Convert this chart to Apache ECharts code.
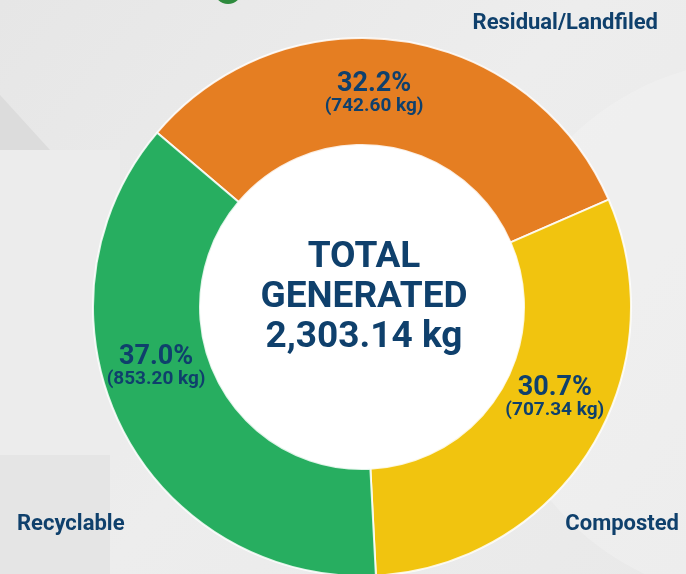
<!DOCTYPE html>
<html>
<head>
<meta charset="utf-8">
<script src="https://cdn.jsdelivr.net/npm/echarts@6/dist/echarts.min.js"></script>
<style>
html,body{margin:0;padding:0;background:#e9e9e9;}
#c{width:686px;height:574px;}
</style>
</head>
<body>
<div id="c"></div>
<script>
// Data
var categories = ['Residual/Landfiled', 'Composted', 'Recyclable'];
var valuesKg = [742.60, 707.34, 853.20];
var sliceColors = ['#E57E22', '#F1C40F', '#27AE60'];

var total = valuesKg.reduce(function (a, b) { return a + b; }, 0);
function fmtNum(v) {
  var s = v.toFixed(2).split('.');
  return s[0].replace(/\B(?=(\d{3})+(?!\d))/g, ',') + '.' + s[1];
}

var textColor = '#0F406C';
var chart = echarts.init(document.getElementById('c'));

var offsets = [[-20, 3], [7, -24], [-10, -36]];

chart.setOption({
  backgroundColor: '#e9e9e9',
  animation: false,
  graphic: [
    { type: 'rect', z: 0, shape: { x: 0, y: 0, width: 686, height: 574 },
      style: { fill: new echarts.graphic.LinearGradient(0, 0, 1, 1, [
        { offset: 0, color: '#e6e6e6' }, { offset: 0.5, color: '#ededed' }, { offset: 1, color: '#e9e9e9' }]) } },
    { type: 'polygon', z: 0, shape: { points: [[0, 95], [0, 150], [50, 150]] }, style: { fill: '#dcdcdc' } },
    { type: 'rect', z: 0, shape: { x: 0, y: 150, width: 120, height: 305 }, style: { fill: '#ececec' } },
    { type: 'rect', z: 0, shape: { x: 0, y: 455, width: 110, height: 119 }, style: { fill: '#e5e5e5' } },
    { type: 'circle', z: 0, shape: { cx: 760, cy: 330, r: 270 }, style: { fill: 'rgba(255,255,255,0.2)' } },
    { type: 'circle', z: 0, shape: { cx: 228, cy: -10, r: 14 }, style: { fill: '#2E8B3E' } },
    { type: 'circle', z: 1, shape: { cx: 362, cy: 307, r: 163 }, style: { fill: '#ffffff' } },
    { type: 'text', z: 10, style: {
        text: 'TOTAL\nGENERATED\n' + fmtNum(total) + ' kg',
        x: 364, y: 298, textAlign: 'center', textVerticalAlign: 'middle',
        font: 'bold 37px Roboto', lineHeight: 40, fill: textColor } },
    { type: 'text', z: 10, style: { text: categories[0], x: 658, y: 23, textAlign: 'right', textVerticalAlign: 'middle',
        font: 'bold 22px Roboto', fill: textColor } },
    { type: 'text', z: 10, style: { text: categories[2], x: 17, y: 524, textAlign: 'left', textVerticalAlign: 'middle',
        font: 'bold 22px Roboto', fill: textColor } },
    { type: 'text', z: 10, style: { text: categories[1], x: 679, y: 524, textAlign: 'right', textVerticalAlign: 'middle',
        font: 'bold 22px Roboto', fill: textColor } }
  ],
  series: [{
    type: 'pie',
    z: 5,
    center: [362, 307],
    radius: [162, 269],
    startAngle: 139.6,
    clockwise: true,
    avoidLabelOverlap: false,
    silent: true,
    itemStyle: { borderColor: 'rgba(255,255,255,0.85)', borderWidth: 2 },
    label: {
      show: true,
      position: 'inside',
      formatter: function (p) {
        return '{p|' + (p.value / total * 100).toFixed(1) + '%}\n{v|(' + p.value.toFixed(2) + ' kg)}';
      },
      rich: {
        p: { fontFamily: 'Roboto', fontWeight: 'bold', fontSize: 27, color: textColor, lineHeight: 24, align: 'center' },
        v: { fontFamily: 'Roboto', fontWeight: 'bold', fontSize: 19, color: textColor, lineHeight: 20, align: 'center' }
      }
    },
    labelLine: { show: false },
    labelLayout: function (params) {
      var o = offsets[params.dataIndex];
      return { dx: o[0], dy: o[1] };
    },
    data: categories.map(function (name, i) {
      return { name: name, value: valuesKg[i], itemStyle: { color: sliceColors[i] } };
    })
  }]
});
</script>
</body>
</html>
